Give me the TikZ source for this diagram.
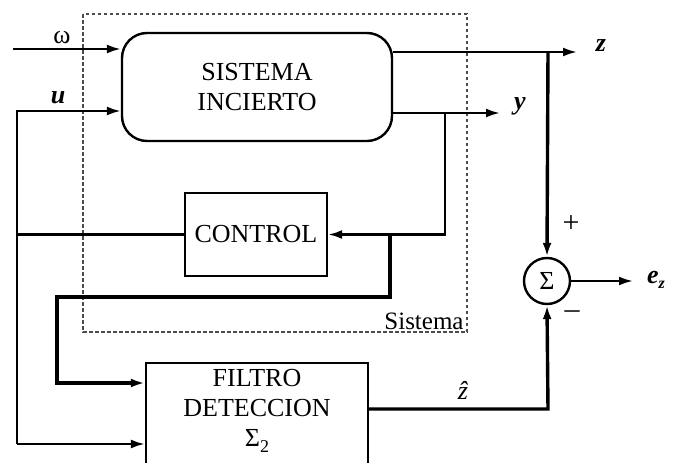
\documentclass[tikz,border=0pt]{standalone}
\usepackage{fontspec}
\setmainfont{Liberation Serif}
\usetikzlibrary{arrows.meta}
\begin{document}
\begin{tikzpicture}[x=1pt,y=-1pt,
  ln/.style={line width=2.3pt},
  thk/.style={line width=3.4pt},
  arr/.style={-{Latex[length=14pt,width=9pt]}},
  blk/.style={draw, line width=2.4pt, inner sep=0pt},
  lbl/.style={font=\fontsize{26}{30}\selectfont, inner sep=0pt},
  sml/.style={font=\fontsize{30}{30}\selectfont, inner sep=0pt}]
\useasboundingbox (0,0) rectangle (673,463);
\clip (0,0) rectangle (673,463);
% system boundary
\draw[line width=1.2pt, black!70, dash pattern=on 3.5pt off 2.5pt] (83,14) rectangle (467,332);
% blocks
\node[blk, rounded corners=25pt, minimum width=270pt, minimum height=108pt, align=center, lbl] (si) at (257,87) {SISTEMA\\INCIERTO};
\node[blk, minimum width=142pt, minimum height=83pt, lbl] (ctl) at (256,234.5) {CONTROL};
\node[blk, minimum width=222pt, minimum height=112pt] (fil) at (257,419) {};
\node[lbl, align=center] (filtxt) at (257,411) {FILTRO\\DETECCION\\Σ\raisebox{-0.25em}{\fontsize{18}{18}\selectfont 2}};
\node[draw, circle, line width=2.4pt, minimum size=46pt, inner sep=0pt, lbl] (sum) at (547,281) {Σ};
% coordinates
\coordinate (wst) at (13,49);
\coordinate (ust) at (17,111);
\coordinate (zend) at (577,52);
\coordinate (yend) at (500,113);
\coordinate (zj) at (548,52);
\coordinate (yj) at (445,113);
\coordinate (cj) at (390,236);
\coordinate (k1) at (390,297);
\coordinate (k2) at (57,297);
\coordinate (k3) at (57,383);
\coordinate (lb) at (17,444);
\coordinate (zh) at (548,409);
\coordinate (eout) at (633,281);
% connectors
\draw[ln,arr] (wst) -- (wst -| si.west);
\draw[ln,arr] (lb) -- (ust) -- (ust -| si.west);
\draw[ln,arr] (si.east |- zend) -- (zend);
\draw[ln,arr] (si.east |- yend) -- (yend);
\draw[ln,arr] (yj) -- (yj |- ctl.east) -- (ctl.east);
\draw[ln] (ctl.west) -- (ctl.west -| lb);
\draw[thk,arr] (cj |- ctl.east) -- (k1) -- (k2) -- (k3) -- (k3 -| fil.west);
\draw[ln,arr] (lb) -- (lb -| fil.west);
\draw[thk,arr] (zj) -- (sum.north);
\draw[thk,arr] (zh -| fil.east) -- (zh) -- (sum.south);
\draw[ln,arr] (sum.east) -- (eout);
% labels
\node[lbl] (lw) at (62,38) {ω};
\node[lbl] (lu) at (58,98) {\bfseries\itshape u};
\node[lbl] (lz) at (601,46) {\bfseries\itshape z};
\node[lbl] (ly) at (520,106) {\bfseries\itshape y};
\node[lbl] (le) at (656,280) {\bfseries\itshape e\raisebox{-0.2em}{\fontsize{16}{16}\selectfont z}};
\node[lbl] (lzh) at (463,390) {\itshape ẑ};
\node[sml] (lp) at (571,224) {+};
\node[sml] (lm) at (572,315) {–};
\node[font=\fontsize{25}{25}\selectfont, inner sep=0pt] (lsis) at (424,321) {Sistema};
\end{tikzpicture}
\end{document}
